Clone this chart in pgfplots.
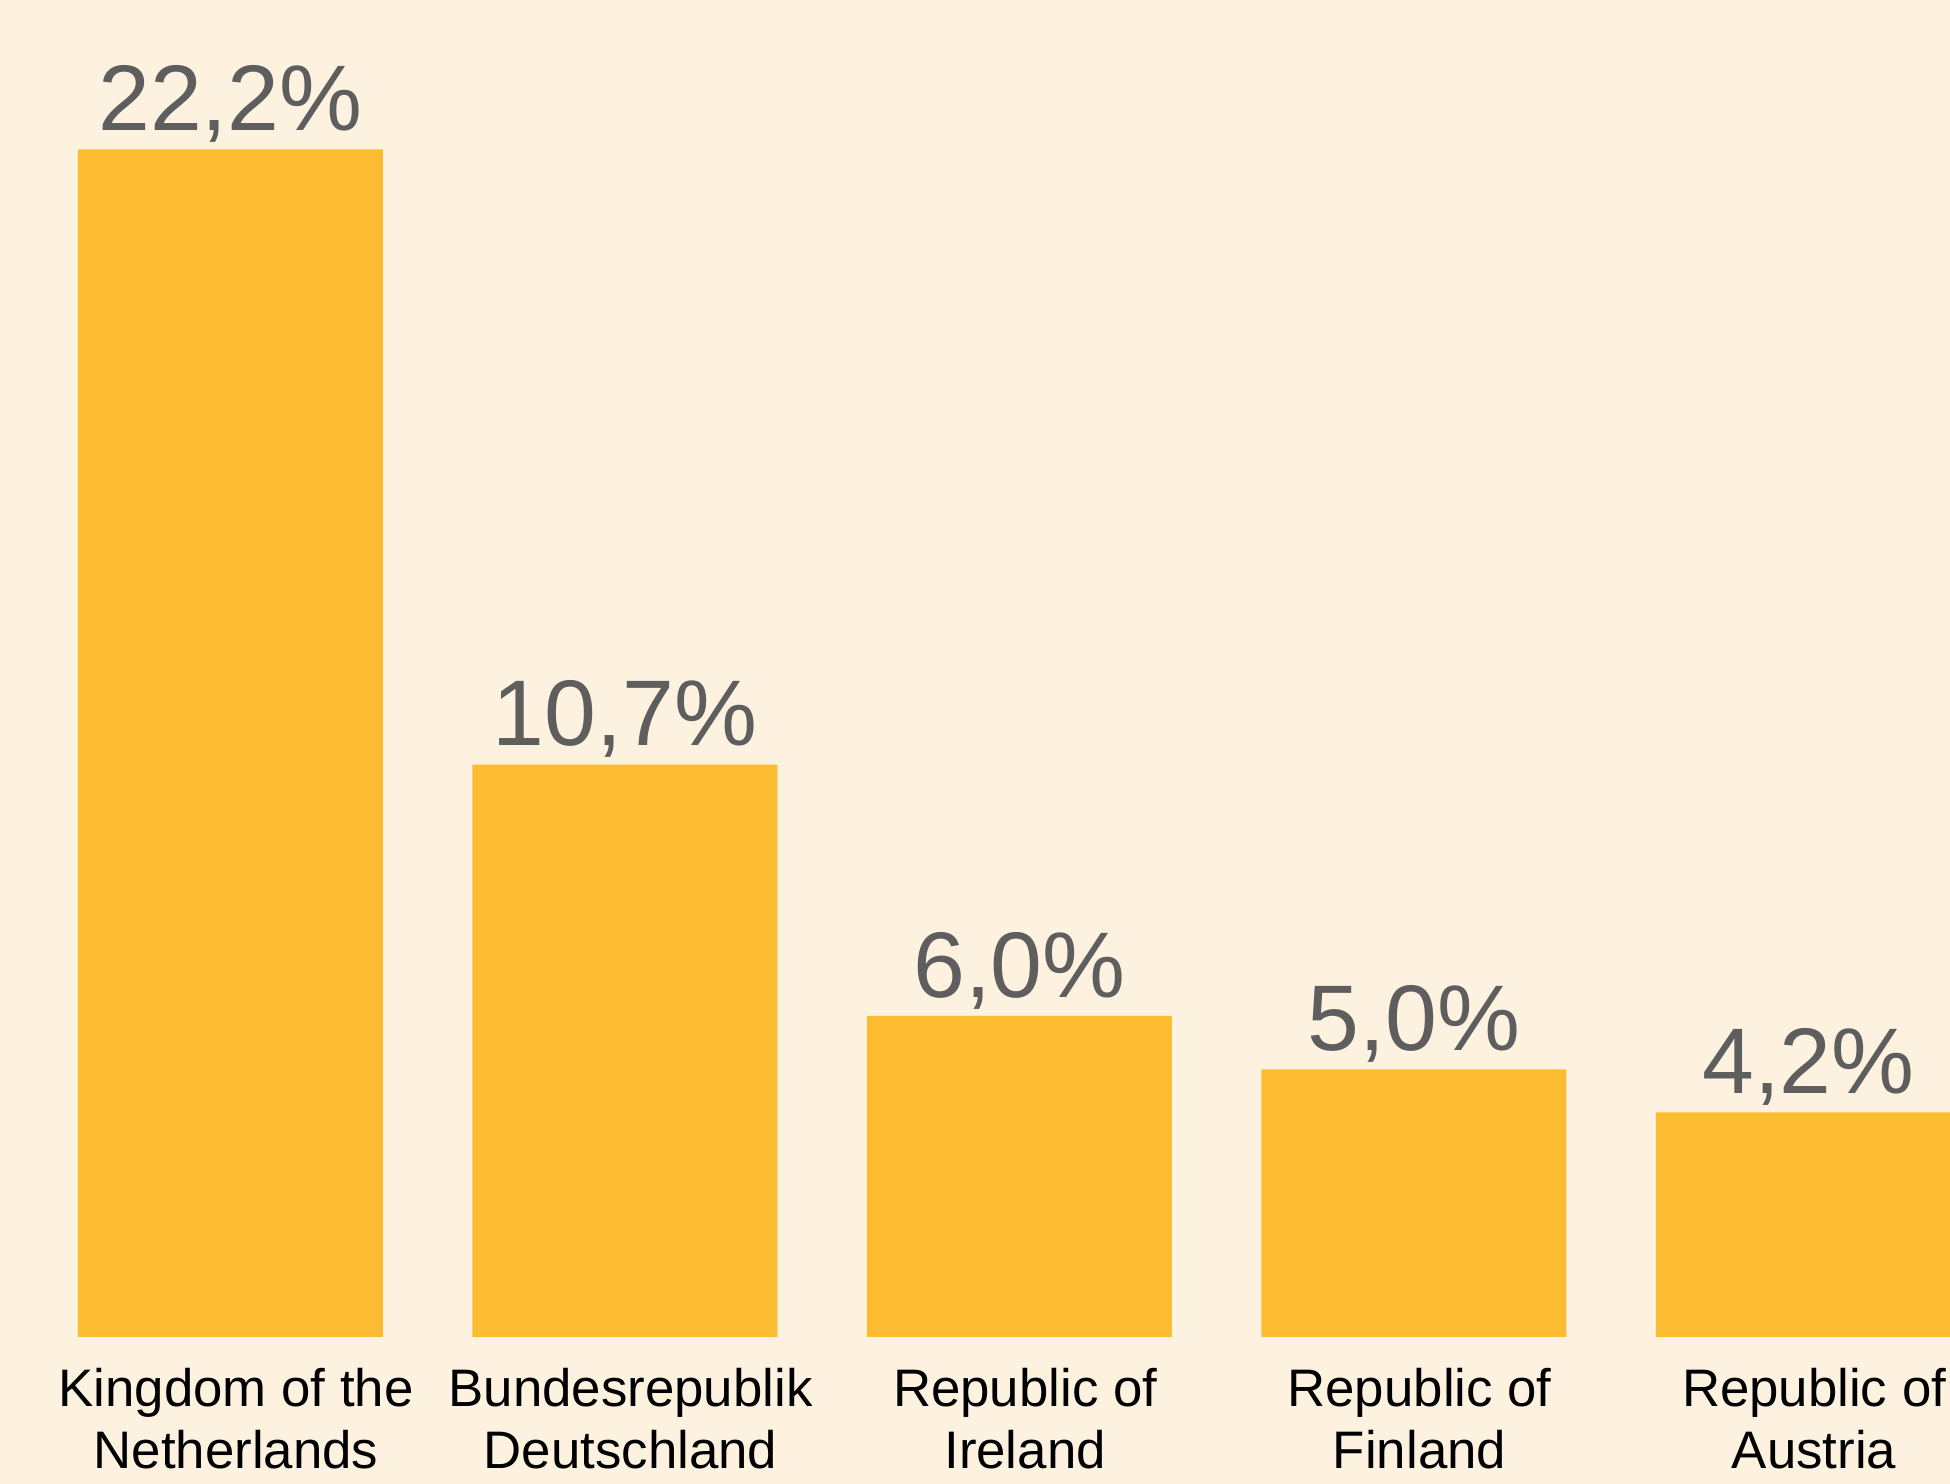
\documentclass[border=0pt]{standalone}
\usepackage{pgfplots}
\pgfplotsset{compat=1.18}
\usepackage{fontspec}
\setmainfont{Liberation Sans}
\definecolor{bgc}{HTML}{FDF2DF}
\definecolor{barc}{HTML}{FCBC31}
\definecolor{numc}{HTML}{5E5E5E}
\begin{document}
\begin{tikzpicture}
\useasboundingbox (0,0) rectangle (487.5pt,371pt);
\fill[bgc] (0,0) rectangle (487.5pt,371pt);
\begin{axis}[
  at={(8.31pt,36.75pt)}, anchor=south west,
  scale only axis,
  width=493.125pt, height=334.375pt,
  xmin=-0.5, xmax=4.5, ymin=0, ymax=25,
  axis x line=bottom, axis y line=none,
  x axis line style={draw=none},
  ytick=\empty,
  xtick={0,1,2,3,4},
  major tick length=0pt,
  xtick style={draw=none},
  xticklabels={{Kingdom of the\\Netherlands},{Bundesrepublik\\Deutschland},{Republic of\\Ireland},{Republic of\\Finland},{Republic of\\Austria}},
  xticklabel style={align=center, anchor=north, inner sep=0pt, xshift=1.4pt, yshift=-7.6pt, font=\fontsize{13.2}{15.5}\selectfont, text=black},
  ybar, bar width=76.25pt, bar shift=0pt,
  clip=false,
  nodes near coords={\pgfplotspointmeta},
  point meta=explicit symbolic,
  every node near coord/.append style={anchor=base, inner sep=0pt, yshift=4.65pt, font=\fontsize{23.3}{28}\selectfont, text=numc},
]
\addplot[fill=barc, draw=none] coordinates {
  (0,22.2) [22,2\%]
  (1,10.7) [10,7\%]
  (2,6.0) [6,0\%]
  (3,5.0) [5,0\%]
  (4,4.2) [4,2\%]
};
\end{axis}
\end{tikzpicture}
\end{document}
